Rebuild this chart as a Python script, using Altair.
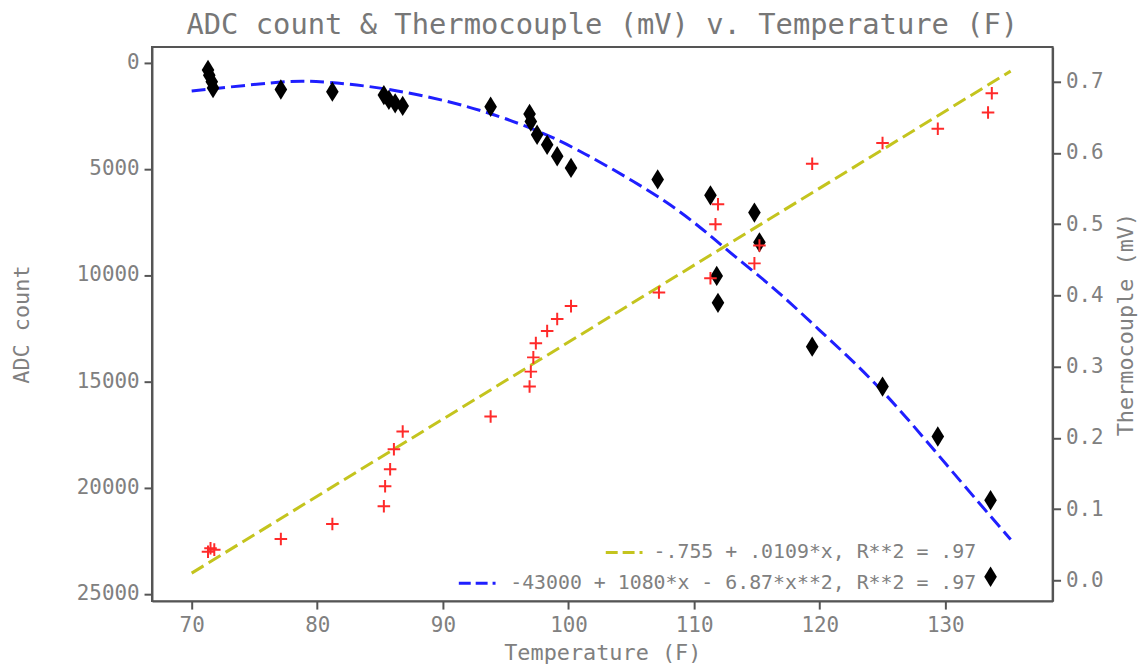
import altair as alt
import pandas as pd

FONT = "DejaVu Sans Mono"

# ---- data ----
adc_temp = [71.3, 71.4, 71.6, 71.7, 77.1, 81.2, 85.3, 85.7, 86.2, 86.8, 93.8,
            96.9, 97.0, 97.5, 98.3, 99.1, 100.2, 107.1, 111.3, 111.8, 111.9,
            114.8, 115.2, 119.4, 125.0, 129.4, 133.6, 133.6]
adc_count = [350, 600, 900, 1200, 1270, 1370, 1530, 1760, 1920, 2040, 2080,
             2420, 2780, 3400, 3870, 4410, 4960, 5500, 6250, 10040, 11310,
             7060, 8460, 13370, 15250, 17600, 20600, 24200]

tc_temp = [71.3, 71.5, 71.8, 77.1, 81.2, 85.3, 85.4, 85.8, 86.1, 86.8, 93.8,
           96.9, 97.0, 97.2, 97.4, 98.3, 99.1, 100.2, 107.2, 111.3, 111.7,
           111.9, 114.8, 115.2, 119.4, 125.0, 129.4, 133.4, 133.7]
tc_mv = [0.040, 0.045, 0.043, 0.058, 0.079, 0.104, 0.132, 0.156, 0.184, 0.209,
         0.230, 0.272, 0.293, 0.313, 0.333, 0.350, 0.367, 0.385, 0.404, 0.424,
         0.500, 0.528, 0.445, 0.470, 0.585, 0.614, 0.634, 0.657, 0.684]

quad_temp = [70, 76.9, 79.3, 85.3, 92.2, 97.2, 100.6, 108.5, 112.5, 116.4,
             119.6, 124.8, 130.1, 135.2]
quad_adc = [1340, 910, 830, 1150, 2040, 3100, 4020, 6700, 8800, 10600,
            12400, 15200, 18950, 22450]

lin_temp = [70, 135.2]
lin_mv = [0.010, 0.715]

x_ticks = [70, 80, 90, 100, 110, 120, 130]
adc_ticks = [0, 5000, 10000, 15000, 20000, 25000]
mv_ticks = [0.0, 0.1, 0.2, 0.3, 0.4, 0.5, 0.6, 0.7]

title_text = "ADC count & Thermocouple (mV) v. Temperature (F)"
x_title = "Temperature (F)"
left_title = "ADC count"
right_title = "Thermocouple (mV)"
legend_labels = ["-.755 + .0109*x, R**2 = .97",
                 "-43000 + 1080*x - 6.87*x**2, R**2 = .97"]

BLUE = "#1f1fff"
YELLOW = "#c4c41e"
RED = "#ff2a2a"

W, H = 907, 558

adc_df = pd.DataFrame({"t": adc_temp, "v": adc_count})
tc_df = pd.DataFrame({"t": tc_temp, "v": tc_mv})
quad_df = pd.DataFrame({"t": quad_temp, "v": quad_adc})
lin_df = pd.DataFrame({"t": lin_temp, "v": lin_mv})

xenc = alt.X("t:Q", title=x_title,
             scale=alt.Scale(domain=[66.84, 138.54], nice=False, zero=False),
             axis=alt.Axis(values=x_ticks, format="d", titleY=52,
                           titleBaseline="middle", labelPadding=6))

y_left = alt.Y("v:Q", title=left_title,
               scale=alt.Scale(domain=[-729, 25346], nice=False, zero=False, reverse=True),
               axis=alt.Axis(values=adc_ticks, format="d", orient="left",
                             titleX=-131, titleY=H / 2, titleBaseline="middle",
                             titleAngle=270))
y_right = alt.Y("v:Q", title=right_title,
                scale=alt.Scale(domain=[-0.0293, 0.7488], nice=False, zero=False),
                axis=alt.Axis(values=mv_ticks, format=".1f", orient="right",
                              titleX=73, titleY=H / 2, titleBaseline="middle",
                              titleAngle=270))

quad_line = alt.Chart(quad_df).mark_line(
    color=BLUE, strokeWidth=3, strokeDash=[14, 6], interpolate="basis"
).encode(x=xenc, y=y_left)
diamonds = alt.Chart(adc_df).mark_point(
    shape="M0,-1L0.62,0L0,1L-0.62,0Z", filled=True, color="black",
    size=420, opacity=1
).encode(x=xenc, y=y_left)

lin_line = alt.Chart(lin_df).mark_line(
    color=YELLOW, strokeWidth=3, strokeDash=[14, 6]
).encode(x=xenc, y=y_right)
pluses = alt.Chart(tc_df).mark_point(
    shape="M-1,0L1,0M0,-1L0,1", filled=False, color=RED, strokeWidth=2,
    size=160, opacity=1
).encode(x=xenc, y=y_right)

left = alt.layer(quad_line, diamonds)
right = alt.layer(lin_line, pluses)

leg_df = pd.DataFrame({"label": legend_labels})
leg_text1 = alt.Chart(leg_df).transform_filter(
    alt.datum.label == legend_labels[0]
).mark_text(font=FONT, fontSize=20, color="#808080", align="right",
            baseline="middle").encode(
    x=alt.value(830), y=alt.value(509), text="label:N")
leg_text2 = alt.Chart(leg_df).transform_filter(
    alt.datum.label == legend_labels[1]
).mark_text(font=FONT, fontSize=20, color="#808080", align="right",
            baseline="middle").encode(
    x=alt.value(830), y=alt.value(540), text="label:N")
leg_sym1 = alt.Chart(leg_df).transform_filter(
    alt.datum.label == legend_labels[0]
).mark_rule(color=YELLOW, strokeWidth=3, strokeDash=[12, 5, 12, 5, 3, 5]).encode(
    x=alt.value(457), x2=alt.value(494), y=alt.value(509))
leg_sym2 = alt.Chart(leg_df).transform_filter(
    alt.datum.label == legend_labels[1]
).mark_rule(color=BLUE, strokeWidth=3, strokeDash=[12, 5, 12, 5, 3, 5]).encode(
    x=alt.value(309), x2=alt.value(346), y=alt.value(540))

chart = alt.layer(left, right, leg_sym1, leg_sym2, leg_text1, leg_text2).resolve_scale(
    y="independent"
).properties(
    width=W, height=H,
    autosize=alt.AutoSizeParams(type="none"),
    padding={"left": 145, "top": 37, "right": 87, "bottom": 62},
    title=alt.Title(title_text, font=FONT, fontSize=29, color="#777777",
                    fontWeight="normal", anchor="middle", frame="group", offset=7),
).configure_view(
    stroke="#555555", strokeWidth=2
).configure_axis(
    grid=False, domainColor="#555555", domainWidth=2, tickColor="#555555",
    tickWidth=2, tickSize=8, labelFont=FONT, labelFontSize=21,
    labelColor="#808080", titleFont=FONT, titleFontSize=22,
    titleColor="#808080", titleFontWeight="normal", labelPadding=5
)

chart.save("out.html", embed_options={"renderer": "svg", "actions": False})
